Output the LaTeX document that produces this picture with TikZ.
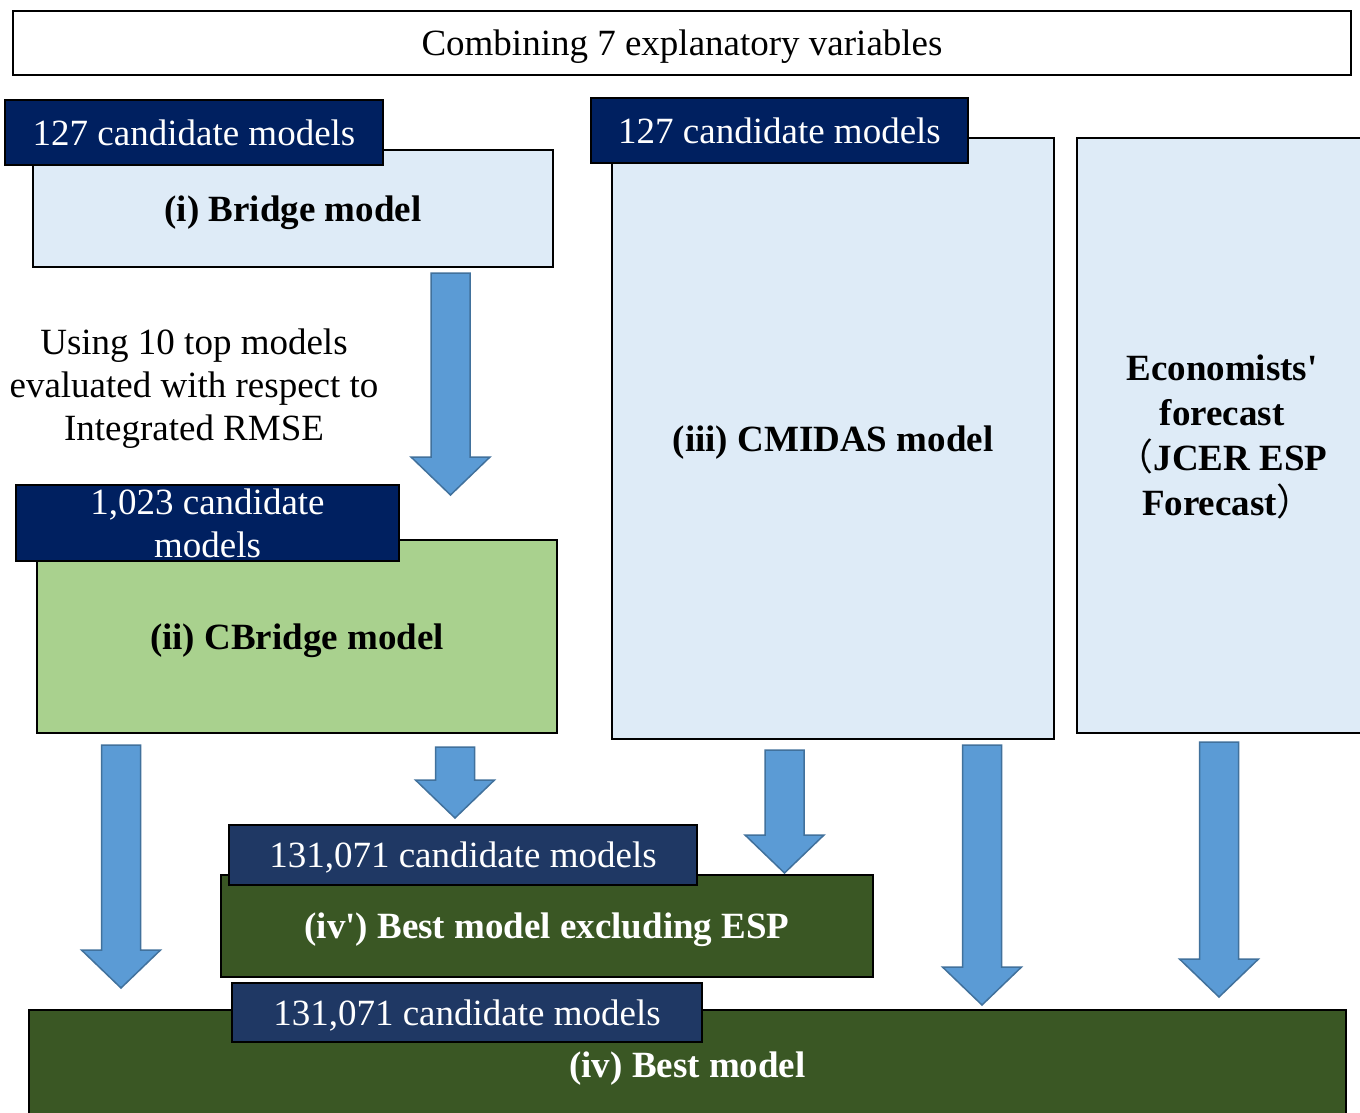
\documentclass[tikz,border=0pt]{standalone}
\usepackage{fontspec}
\setmainfont{Liberation Serif}
% same face without TeX ligature mapping, for a straight apostrophe
\newfontfamily\rawserif{Liberation Serif}
\newfontfamily\cjk{Noto Sans CJK JP}
\usetikzlibrary{calc}

\definecolor{navyA}{HTML}{002060}
\definecolor{navyB}{HTML}{1F3864}
\definecolor{paleblue}{HTML}{DEEBF7}
\definecolor{leafgreen}{HTML}{A9D18E}
\definecolor{darkgreen}{HTML}{3A5724}
\definecolor{arrowfill}{HTML}{5B9BD5}
\definecolor{arrowline}{HTML}{41719C}

\newcommand\quo{{\rawserif\char"0027}}

\tikzset{
  base/.style={draw=black, line width=1.5pt, inner sep=0pt, align=center,
    text depth=0pt, font=\fontsize{37}{43}\selectfont},
  heavy/.style={font=\fontsize{37}{45}\selectfont\bfseries},
  panel/.style={base, heavy, fill=paleblue},
  tagA/.style={base, fill=navyA, text=white},
  tagB/.style={base, fill=navyB, text=white},
  result/.style={base, heavy, fill=darkgreen, text=white},
  blockarr/.style={fill=arrowfill, draw=arrowline, line width=1.5pt, line join=miter},
  note/.style={inner sep=0pt, align=center, font=\fontsize{37}{43}\selectfont}
}

% wide down arrow from a start point to its tip
\newcommand\blockarrow[2]{%
  \draw[blockarr] ($(#1)+(-19.5,0)$) -- ($(#2)+(-19.5,-38)$) -- ($(#2)+(-39.5,-38)$)
    -- (#2) -- ($(#2)+(39.5,-38)$) -- ($(#2)+(19.5,-38)$) -- ($(#1)+(19.5,0)$) -- cycle;}

\begin{document}
\begin{tikzpicture}[x=1pt,y=-1pt]
\useasboundingbox (0,0) rectangle (1360,1113);
\fill[white] (0,0) rectangle (1360,1113);

% header
\node[base, fill=white, minimum width=1338, minimum height=64] (head) at (682,43)
  {Combining 7 explanatory variables};

% model panels
\node[panel, minimum width=520, minimum height=117] (bridge) at (293,208.5) {(i) Bridge model};
\node[tagA, minimum width=378, minimum height=65] (tagbridge) at (194,132.5) {127 candidate models};

\node[panel, fill=leafgreen, minimum width=520, minimum height=193] (cbridge) at (297,636.5) {(ii) CBridge model};
\node[tagA, minimum width=383, minimum height=76] (tagcbridge) at (207.5,523) {1,023 candidate\\models};

\node[panel, minimum width=442, minimum height=601] (cmidas) at (833,438.5) {(iii) CMIDAS model};
\node[tagA, minimum width=377, minimum height=65] (tagcmidas) at (779.5,130.5) {127 candidate models};

\node[panel, minimum width=290, minimum height=595] (esp) at (1222,435.5)
  {Economists\quo\\forecast\\{\cjk\mdseries （}JCER ESP\\\hspace*{12pt}Forecast{\cjk\mdseries ）}};

\node[note] (using) at (194,389) {Using 10 top models\\evaluated with respect to\\Integrated RMSE};

% results
\node[result, minimum width=652, minimum height=102] (bestx) at (547,926) {(iv\quo) Best model excluding ESP};
\node[tagB, minimum width=468, minimum height=60] (tagbestx) at (463,855) {131,071 candidate models};

\node[result, minimum width=1317, minimum height=110] (best) at (687.5,1065) {(iv) Best model};
\node[tagB, minimum width=470, minimum height=59] (tagbest) at (467,1012.5) {131,071 candidate models};

% arrows between the stages
\coordinate (a1s) at (450.5,273);  \coordinate (a1e) at (450.5,495);
\coordinate (a2s) at (121,745);    \coordinate (a2e) at (121,988);
\coordinate (a3s) at (455,747);    \coordinate (a3e) at (455,818);
\coordinate (a4s) at (784.5,750);  \coordinate (a4e) at (784.5,873);
\coordinate (a5s) at (982,745);    \coordinate (a5e) at (982,1005);
\coordinate (a6s) at (1219,742);   \coordinate (a6e) at (1219,997);
\blockarrow{a1s}{a1e}
\blockarrow{a2s}{a2e}
\blockarrow{a3s}{a3e}
\blockarrow{a4s}{a4e}
\blockarrow{a5s}{a5e}
\blockarrow{a6s}{a6e}
\end{tikzpicture}
\end{document}
